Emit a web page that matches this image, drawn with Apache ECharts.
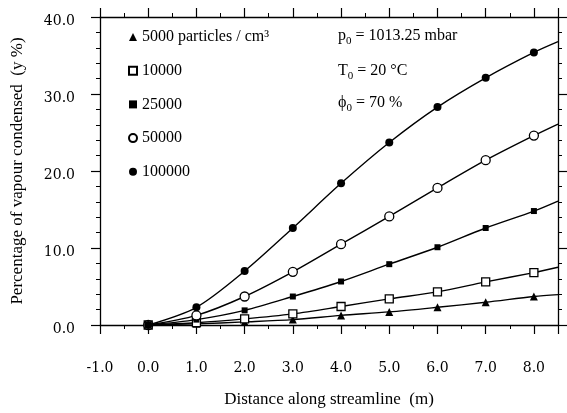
<!DOCTYPE html>
<html>
<head>
<meta charset="utf-8">
<script src="https://cdn.jsdelivr.net/npm/echarts@6/dist/echarts.min.js"></script>
<style>html,body{margin:0;padding:0;background:#fff;}#c{width:567px;height:413px;}</style>
</head>
<body>
<div id="c"></div>
<script>
// Data
const xValues = [0, 1, 2, 3, 4, 5, 6, 7, 8, 8.5];
const s5000   = [0, 0.15, 0.4, 0.7, 1.25, 1.7, 2.3, 2.95, 3.7, 3.95];
const s10000  = [0, 0.3, 0.8, 1.45, 2.4, 3.4, 4.3, 5.6, 6.8, 7.5];
const s25000  = [0, 0.7, 1.9, 3.7, 5.65, 7.9, 10.1, 12.6, 14.8, 16.1];
const s50000  = [0, 1.25, 3.7, 6.9, 10.5, 14.1, 17.8, 21.4, 24.6, 26.1];
const s100000 = [0, 2.3, 7.0, 12.6, 18.4, 23.7, 28.3, 32.1, 35.4, 36.8];
const seriesNames = ['5000 particles / cm³', '10000', '25000', '50000', '100000'];
const xTitle = 'Distance along streamline  (m)';
const yTitle = 'Percentage of vapour condensed  (y %)';

const serif = 'Liberation Serif';
const numFont = 'DejaVu Serif';

function pts(ys) {
  return xValues.map((x, i) => {
    const d = { value: [x, ys[i]] };
    if (i === xValues.length - 1) d.symbol = 'none';
    return d;
  });
}

const styles = [
  { symbol: 'triangle', size: 8, item: { color: '#000' } },
  { symbol: 'rect', size: 8, item: { color: '#fff', borderColor: '#000', borderWidth: 1.3 } },
  { symbol: 'rect', size: 6, item: { color: '#000' } },
  { symbol: 'circle', size: 9, item: { color: '#fff', borderColor: '#000', borderWidth: 1.3 } },
  { symbol: 'circle', size: 8, item: { color: '#000' } }
];
const allData = [s5000, s10000, s25000, s50000, s100000];

const series = allData.map((ys, i) => ({
  name: seriesNames[i],
  type: 'line',
  data: pts(ys),
  smooth: 0.3,
  symbol: styles[i].symbol,
  symbolSize: styles[i].size,
  showAllSymbol: true,
  itemStyle: styles[i].item,
  lineStyle: { color: '#000', width: 1.4 },
  z: 2 + i,
  animation: false
}));

const axisLineStyle = { color: '#000', width: 1.3 };
function baseAxis(extra) {
  return Object.assign({
    type: 'value',
    axisLine: { show: true, onZero: false, lineStyle: axisLineStyle },
    axisTick: { show: true, inside: false, length: 9, lineStyle: { color: '#000', width: 1.2 } },
    splitLine: { show: false },
    minorSplitLine: { show: false }
  }, extra);
}

const chart = echarts.init(document.getElementById('c'), null, { renderer: 'canvas' });
chart.setOption({
  backgroundColor: '#fff',
  animation: false,
  grid: { left: 100, right: 9, top: 17, bottom: 85, containLabel: false },
  xAxis: [
    baseAxis({
      min: -1, max: 8.5, interval: 1, position: 'bottom',
      minorTick: { show: true, splitNumber: 2, length: 4, lineStyle: { color: '#000', width: 1 } },
      axisLabel: {
        margin: 36, color: '#000', fontFamily: numFont, fontSize: 14,
        formatter: v => Number.isInteger(v) ? v.toFixed(1) : ''
      },
      name: xTitle, nameLocation: 'middle', nameGap: 66,
      nameTextStyle: { fontFamily: serif, fontSize: 17, color: '#000' }
    }),
    baseAxis({
      min: -1, max: 8.5, interval: 1, position: 'top',
      minorTick: { show: true, splitNumber: 2, length: 4, lineStyle: { color: '#000', width: 1 } },
      axisLabel: { show: false }
    })
  ],
  yAxis: [
    baseAxis({
      min: 0, max: 40, interval: 10, position: 'left',
      minorTick: { show: true, splitNumber: 5, length: 4, lineStyle: { color: '#000', width: 1 } },
      axisLabel: {
        margin: 25, color: '#000', fontFamily: numFont, fontSize: 14,
        verticalAlign: 'top', lineHeight: 8,
        formatter: v => v.toFixed(1)
      },
      name: yTitle, nameLocation: 'middle', nameGap: 74, nameRotate: 90,
      nameTextStyle: { fontFamily: serif, fontSize: 17, color: '#000' }
    }),
    baseAxis({
      min: 0, max: 40, interval: 10, position: 'right',
      minorTick: { show: true, splitNumber: 5, length: 4, lineStyle: { color: '#000', width: 1 } },
      axisLabel: { show: false }
    })
  ],
  legend: {
    orient: 'vertical', left: 123, top: 24,
    itemWidth: 8, itemHeight: 8, itemGap: 17.7,
    textStyle: { fontFamily: serif, fontSize: 16, color: '#000' },
    data: seriesNames.map((n, i) => ({ name: n, icon: styles[i].symbol }))
  },
  title: [
    { text: '{a|p}{s|0}{a| = 1013.25 mbar}', left: 338, top: 26 },
    { text: '{a|T}{s|0}{a| = 20 °C}', left: 338, top: 61 },
    { text: '{a|ϕ}{s|0}{a| = 70 %}', left: 338, top: 93 }
  ].map(t => Object.assign(t, {
    padding: 0,
    textStyle: {
      fontWeight: 'normal',
      rich: {
        a: { fontFamily: serif, fontSize: 16, fontWeight: 'normal', color: '#000', lineHeight: 20 },
        s: { fontFamily: serif, fontSize: 11, fontWeight: 'normal', color: '#000', lineHeight: 20, padding: [10, 0, 0, 0] }
      }
    }
  })),
  series: series
});
</script>
</body>
</html>
